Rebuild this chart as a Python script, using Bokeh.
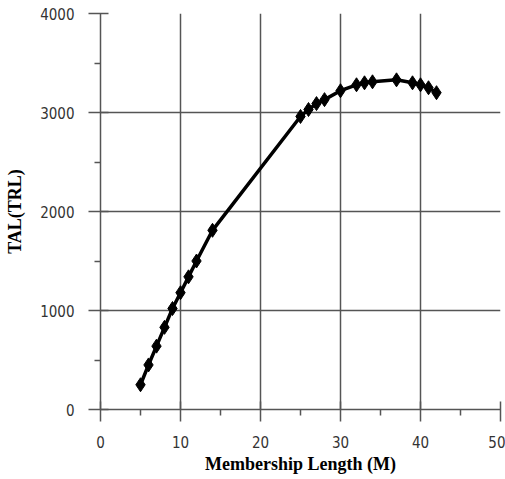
from bokeh.plotting import figure
from bokeh.models import Range1d, FixedTicker
from bokeh.embed import file_html
from bokeh.resources import INLINE

length = [5, 6, 7, 8, 9, 10, 11, 12, 14, 25, 26, 27, 28, 30, 32, 33, 34, 37, 39, 40, 41, 42]
tal = [250, 450, 640, 830, 1020, 1180, 1340, 1500, 1810, 2960, 3030, 3090, 3130, 3220,
       3280, 3300, 3310, 3330, 3300, 3280, 3250, 3200]
x_ticks = [0, 10, 20, 30, 40, 50]
y_ticks = [0, 1000, 2000, 3000, 4000]

p = figure(width=505, height=479, output_backend="svg", toolbar_location=None,
           x_range=Range1d(0, 50), y_range=Range1d(0, 4000),
           min_border_left=100, min_border_right=5, min_border_top=13, min_border_bottom=70)
p.outline_line_color = None

p.line(length, tal, line_color="black", line_width=3.5)
p.scatter(length, tal, marker="diamond", size=14, fill_color="black", line_color="black")

grid_col = "#555555"
p.xgrid.ticker = FixedTicker(ticks=[10, 20, 30, 40, 50])
p.ygrid.ticker = FixedTicker(ticks=[1000, 2000, 3000, 4000])
for g in (p.xgrid, p.ygrid):
    g.grid_line_color = grid_col
    g.grid_line_width = 1.5

p.xaxis.ticker = FixedTicker(ticks=x_ticks, minor_ticks=[5, 15, 25, 35, 45])
p.yaxis.ticker = FixedTicker(ticks=y_ticks, minor_ticks=[500, 1500, 2500, 3500])

for ax in (p.xaxis, p.yaxis):
    ax.axis_line_color = grid_col
    ax.axis_line_width = 1.5
    ax.major_tick_line_color = grid_col
    ax.major_tick_line_width = 1.5
    ax.minor_tick_line_color = grid_col
    ax.minor_tick_line_width = 1.5
    ax.major_tick_out = 12
    ax.major_tick_in = 8
    ax.minor_tick_out = 6
    ax.minor_tick_in = 0
    ax.major_label_text_font = "DejaVu Sans Condensed"
    ax.major_label_text_font_size = "15px"
    ax.major_label_text_color = "#333333"
    ax.axis_label_text_font = "Liberation Serif"
    ax.axis_label_text_font_style = "bold"
    ax.axis_label_text_font_size = "18px"
    ax.axis_label_text_color = "black"

p.xaxis.axis_label = "Membership Length (M)"
p.yaxis.axis_label = "TAL(TRL)"
p.xaxis.major_label_standoff = 14
p.yaxis.major_label_standoff = 14
p.xaxis.axis_label_standoff = 3
p.yaxis.axis_label_standoff = 12

open("out.html", "w").write(file_html(p, INLINE))
